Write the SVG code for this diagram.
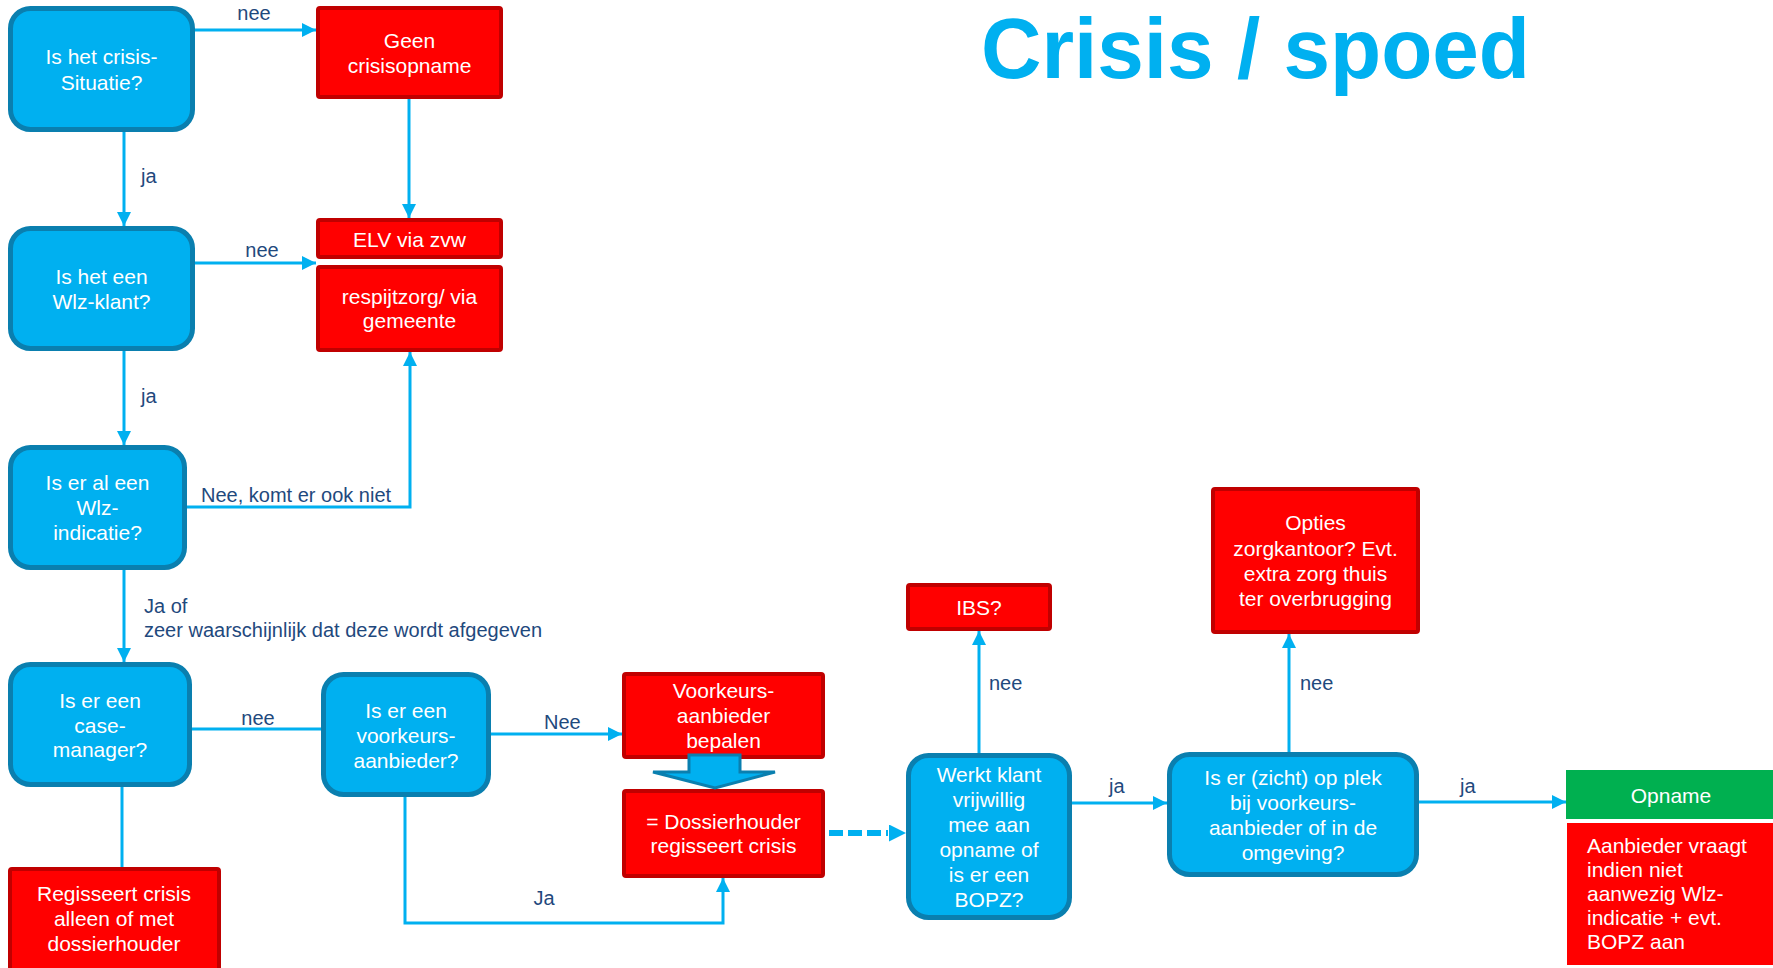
<svg xmlns="http://www.w3.org/2000/svg" width="1773" height="968" viewBox="0 0 1773 968">
<defs>
<style>
text{font-family:"Liberation Sans",Arial,sans-serif}
.q{fill:#00B0F0;stroke:#0A7FAF;stroke-width:5}
.r{fill:#FF0000;stroke:#C00000;stroke-width:4}
.t{fill:#FFFFFF;font-size:21px;text-anchor:middle}
.tl{fill:#FFFFFF;font-size:21px}
.l{fill:#1F497D;font-size:20px}
.lc{fill:#1F497D;font-size:20px;text-anchor:middle}
.c{fill:none;stroke:#00B0F0;stroke-width:3}
.a{marker-end:url(#ah)}
</style>
<marker id="ah" viewBox="0 0 14 14" refX="14" refY="7" markerWidth="14" markerHeight="14" markerUnits="userSpaceOnUse" orient="auto">
<path d="M0,0 L14,7 L0,14 z" fill="#00B0F0"/>
</marker>
<marker id="ah2" viewBox="0 0 14 14" refX="14" refY="7" markerWidth="17" markerHeight="17" markerUnits="userSpaceOnUse" orient="auto">
<path d="M0,0 L14,7 L0,14 z" fill="#00B0F0"/>
</marker>
</defs>
<rect width="1773" height="968" fill="#FFFFFF"/>

<text x="981" y="78" font-size="86" font-weight="bold" fill="#00B0F0" textLength="549" lengthAdjust="spacingAndGlyphs">Crisis / spoed</text>

<g id="connectors">
<path class="c a" d="M195,30 L316,30"/>
<path class="c a" d="M409,99 L409,218"/>
<path class="c a" d="M124,132 L124,226"/>
<path class="c a" d="M195,263 L316,263"/>
<path class="c a" d="M124,351 L124,445"/>
<path class="c a" d="M187,507 L410,507 L410,352"/>
<path class="c a" d="M124,570 L124,662"/>
<path class="c" d="M192,729 L321,729"/>
<path class="c" d="M122,787 L122,867"/>
<path class="c a" d="M491,734 L622,734"/>
<path class="c a" d="M405,797 L405,923 L723,923 L723,878"/>
<path d="M829,833 L888,833" fill="none" stroke="#00B0F0" stroke-width="6" stroke-dasharray="14,5"/>
<path d="M888,833 L906,833" fill="none" stroke="none" marker-end="url(#ah2)"/>
<path class="c a" d="M979,753 L979,631"/>
<path class="c a" d="M1072,803 L1167,803"/>
<path class="c a" d="M1289,752 L1289,634"/>
<path class="c a" d="M1419,802 L1566,802"/>
<text class="lc" x="254" y="20">nee</text>
<text class="l" x="141" y="183">ja</text>
<text class="lc" x="262" y="257">nee</text>
<text class="l" x="141" y="403">ja</text>
<text class="l" x="201" y="502">Nee, komt er ook niet</text>
<text class="l" x="144" y="613">Ja of</text>
<text class="l" x="144" y="637">zeer waarschijnlijk dat deze wordt afgegeven</text>
<text class="lc" x="258" y="725">nee</text>
<text class="l" x="544" y="729">Nee</text>
<text class="lc" x="544" y="905">Ja</text>
<text class="l" x="989" y="690">nee</text>
<text class="l" x="1109" y="793">ja</text>
<text class="l" x="1300" y="690">nee</text>
<text class="l" x="1460" y="793">ja</text>
</g>

<g id="n-crisis">
<rect class="q" x="10.5" y="8.5" width="182" height="121" rx="20"/>
<text class="t" x="101.5" y="64">Is het crisis-</text>
<text class="t" x="101.5" y="90">Situatie?</text>
</g>
<g id="n-geen">
<rect class="r" x="318" y="8" width="183" height="89" rx="2"/>
<text class="t" x="409.5" y="48">Geen</text>
<text class="t" x="409.5" y="73">crisisopname</text>
</g>
<g id="n-elv">
<rect class="r" x="318" y="220" width="183" height="37" rx="2"/>
<text class="t" x="409.5" y="247">ELV via zvw</text>
</g>
<g id="n-respijt">
<rect class="r" x="318" y="267" width="183" height="83" rx="2"/>
<text class="t" x="409.5" y="304">respijtzorg/ via</text>
<text class="t" x="409.5" y="328">gemeente</text>
</g>
<g id="n-wlzklant">
<rect class="q" x="10.5" y="228.5" width="182" height="120" rx="20"/>
<text class="t" x="101.5" y="284">Is het een</text>
<text class="t" x="101.5" y="309">Wlz-klant?</text>
</g>
<g id="n-indicatie">
<rect class="q" x="10.5" y="447.5" width="174" height="120" rx="20"/>
<text class="t" x="97.5" y="490">Is er al een</text>
<text class="t" x="97.5" y="515">Wlz-</text>
<text class="t" x="97.5" y="540">indicatie?</text>
</g>
<g id="n-casemanager">
<rect class="q" x="10.5" y="664.5" width="179" height="120" rx="20"/>
<text class="t" x="100" y="708">Is er een</text>
<text class="t" x="100" y="733">case-</text>
<text class="t" x="100" y="757">manager?</text>
</g>
<g id="n-regisseert">
<rect class="r" x="10" y="869" width="209" height="110" rx="2"/>
<text class="t" x="114" y="901">Regisseert crisis</text>
<text class="t" x="114" y="926">alleen of met</text>
<text class="t" x="114" y="951">dossierhouder</text>
</g>
<g id="n-voorkeur-vraag">
<rect class="q" x="323.5" y="674.5" width="165" height="120" rx="20"/>
<text class="t" x="406" y="718">Is er een</text>
<text class="t" x="406" y="743">voorkeurs-</text>
<text class="t" x="406" y="768">aanbieder?</text>
</g>
<g id="n-voorkeur-bepalen">
<rect class="r" x="624" y="674" width="199" height="83" rx="2"/>
<text class="t" x="723.5" y="698">Voorkeurs-</text>
<text class="t" x="723.5" y="723">aanbieder</text>
<text class="t" x="723.5" y="748">bepalen</text>
</g>
<g id="n-dossierhouder">
<rect class="r" x="624" y="791" width="199" height="85" rx="2"/>
<text class="t" x="723.5" y="829">= Dossierhouder</text>
<text class="t" x="723.5" y="853">regisseert crisis</text>
</g>
<g id="n-blockarrow">
<polygon points="689,755 740,755 740,772 775,772 715,788 653,772 689,772" fill="#00B0F0" stroke="#0A7FAF" stroke-width="3" stroke-linejoin="miter"/>
</g>
<g id="n-werkt">
<rect class="q" x="908.5" y="755.5" width="161" height="162" rx="20"/>
<text class="t" x="989" y="782">Werkt klant</text>
<text class="t" x="989" y="807">vrijwillig</text>
<text class="t" x="989" y="832">mee aan</text>
<text class="t" x="989" y="857">opname of</text>
<text class="t" x="989" y="882">is er een</text>
<text class="t" x="989" y="907">BOPZ?</text>
</g>
<g id="n-ibs">
<rect class="r" x="908" y="585" width="142" height="44" rx="2"/>
<text class="t" x="979" y="615">IBS?</text>
</g>
<g id="n-zicht">
<rect class="q" x="1169.5" y="754.5" width="247" height="120" rx="20"/>
<text class="t" x="1293" y="785">Is er (zicht) op plek</text>
<text class="t" x="1293" y="810">bij voorkeurs-</text>
<text class="t" x="1293" y="835">aanbieder of in de</text>
<text class="t" x="1293" y="860">omgeving?</text>
</g>
<g id="n-opties">
<rect class="r" x="1213" y="489" width="205" height="143" rx="2"/>
<text class="t" x="1315.5" y="530">Opties</text>
<text class="t" x="1315.5" y="556">zorgkantoor? Evt.</text>
<text class="t" x="1315.5" y="581">extra zorg thuis</text>
<text class="t" x="1315.5" y="606">ter overbrugging</text>
</g>
<g id="n-opname">
<rect x="1566" y="770" width="210" height="49" fill="#00B050"/>
<text class="t" x="1671" y="803">Opname</text>
</g>
<g id="n-aanbieder">
<rect x="1567" y="823" width="210" height="142" fill="#FF0000"/>
<text class="tl" x="1587" y="853">Aanbieder vraagt</text>
<text class="tl" x="1587" y="877">indien niet</text>
<text class="tl" x="1587" y="901">aanwezig Wlz-</text>
<text class="tl" x="1587" y="925">indicatie + evt.</text>
<text class="tl" x="1587" y="949">BOPZ aan</text>
</g>
</svg>
